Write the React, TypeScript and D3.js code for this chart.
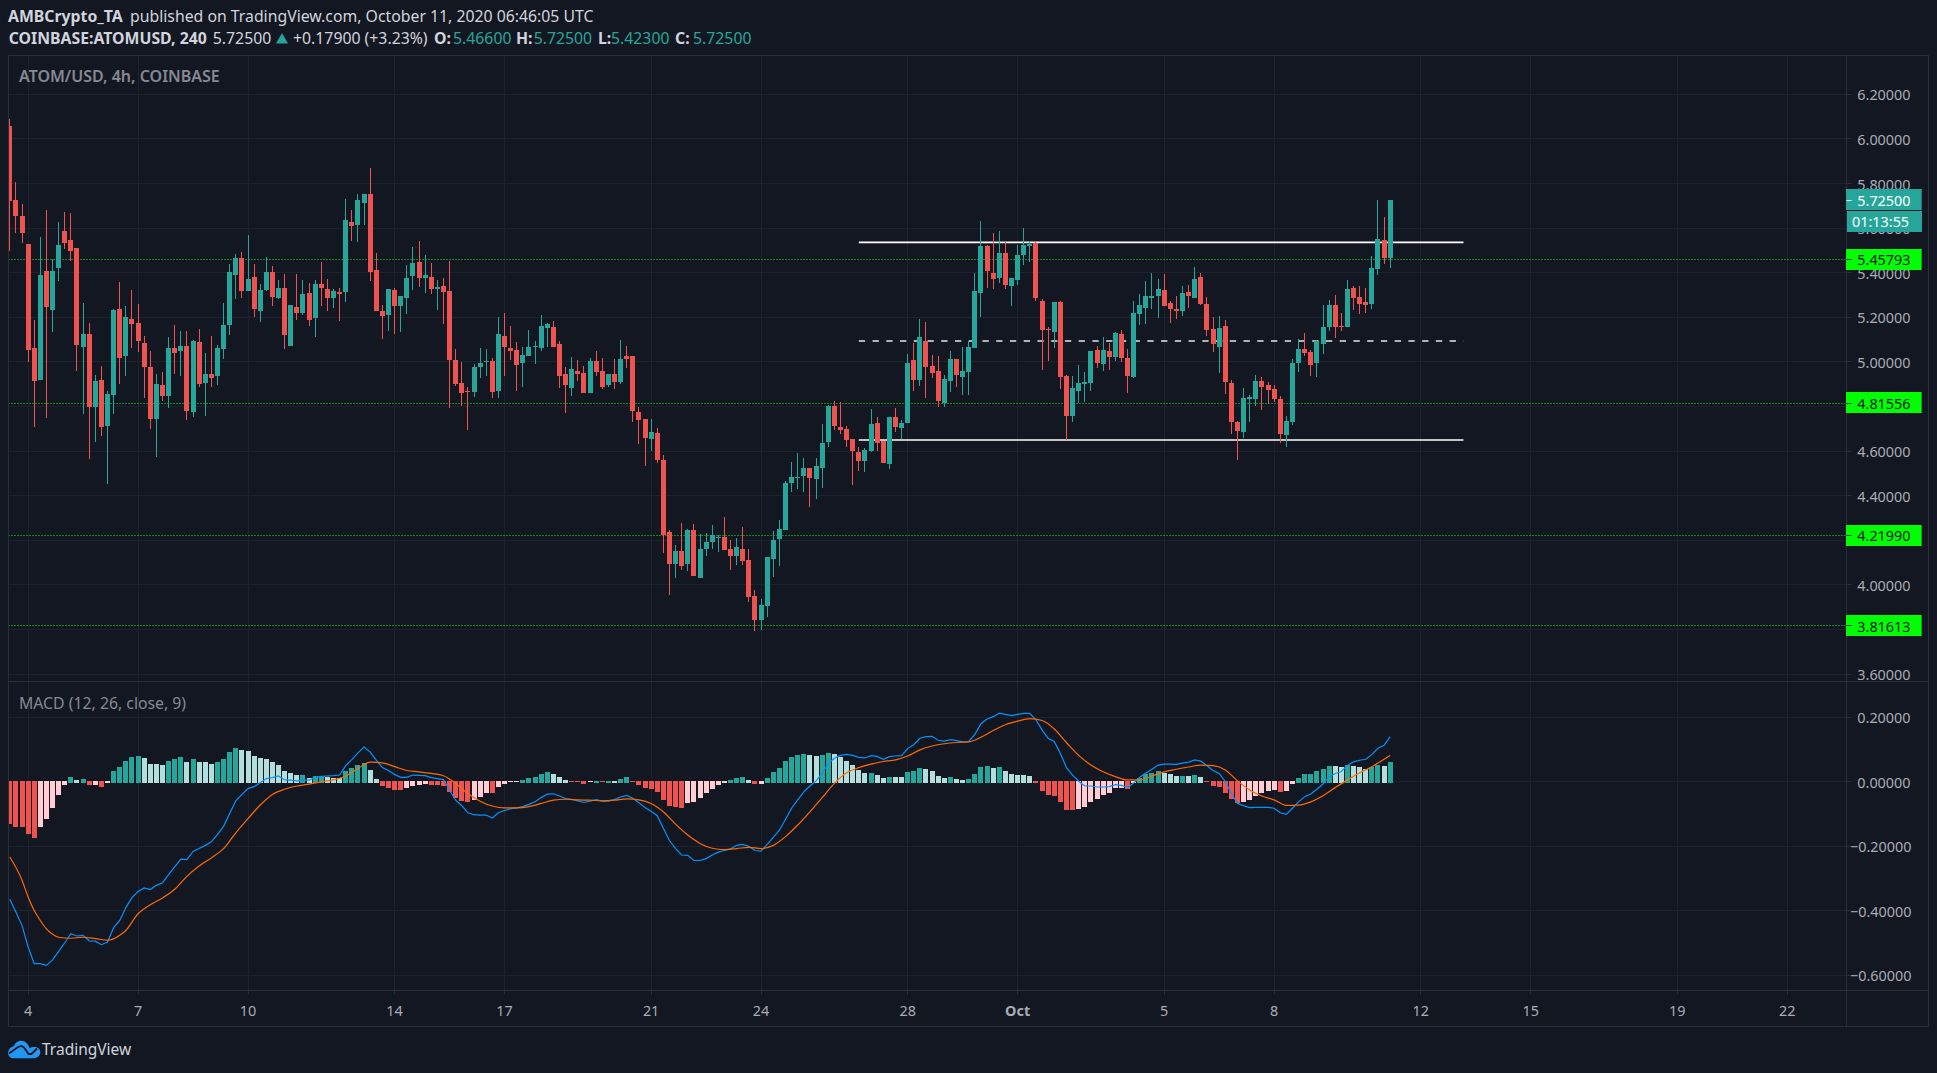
import React from 'react';
import * as d3 from 'd3';

const opens = [
  6.058,5.726,5.654,5.529,5.062,4.919,5.408,5.233,5.421,5.587,
  5.547,5.511,5.067,5.125,4.798,4.919,4.713,4.852,5.237,5.026,
  5.192,5.174,5.085,4.977,4.744,4.896,4.847,5.062,5.049,5.071,
  4.775,5.089,4.905,4.946,4.937,5.058,5.165,5.390,5.466,5.318,
  5.381,5.228,5.322,5.403,5.287,5.331,5.071,5.246,5.219,5.309,
  5.197,5.349,5.327,5.287,5.313,5.313,5.627,5.614,5.713,5.753,
  5.412,5.228,5.210,5.322,5.251,5.287,5.385,5.448,5.376,5.381,
  5.327,5.340,5.318,5.008,4.905,4.869,4.865,4.977,5.000,5.004,
  4.870,5.116,5.062,5.053,4.995,5.026,5.067,5.062,5.152,5.157,
  5.080,4.946,4.883,4.959,4.950,4.861,5.004,4.959,4.896,4.946,
  4.910,5.026,5.026,4.775,4.744,4.654,4.681,4.560,4.237,4.094,
  4.152,4.094,4.246,4.031,4.161,4.192,4.210,4.215,4.161,4.130,
  4.161,4.112,3.950,3.843,3.905,4.116,4.206,4.246,4.457,4.479,
  4.488,4.524,4.475,4.524,4.641,4.802,4.708,4.699,4.654,4.596,
  4.556,4.601,4.726,4.645,4.542,4.753,4.704,4.726,5.009,4.919,
  5.094,4.982,4.959,4.816,4.914,5.013,4.932,4.955,5.062,5.309,
  5.520,5.399,5.376,5.488,5.340,5.367,5.479,5.520,5.533,5.273,
  5.147,5.134,5.269,4.937,4.757,4.870,4.901,4.905,5.053,4.991,
  5.049,5.022,5.125,5.018,4.932,5.215,5.242,5.287,5.296,5.322,
  5.264,5.237,5.228,5.313,5.287,5.381,5.260,5.147,5.067,5.161,
  4.905,4.731,4.686,4.834,4.834,4.914,4.896,4.878,4.834,4.672,
  4.731,4.995,5.058,5.044,4.995,5.080,5.157,5.255,5.161,5.157,
  5.331,5.291,5.269,5.260,5.417,5.547,5.466,
];

const highs = [
  6.089,5.805,5.707,5.529,5.188,5.560,5.680,5.461,5.627,5.672,
  5.668,5.511,5.264,5.174,4.941,4.982,4.869,5.237,5.358,5.251,
  5.322,5.260,5.116,5.049,4.946,4.955,5.112,5.165,5.139,5.139,
  5.098,5.148,5.040,5.116,5.076,5.264,5.439,5.484,5.493,5.569,
  5.439,5.349,5.470,5.430,5.367,5.394,5.255,5.394,5.367,5.354,
  5.367,5.448,5.372,5.327,5.331,5.730,5.681,5.753,5.753,5.869,
  5.488,5.255,5.327,5.331,5.296,5.434,5.515,5.542,5.479,5.443,
  5.367,5.376,5.452,5.058,4.999,4.887,4.991,5.061,5.058,5.018,
  5.201,5.219,5.161,5.089,5.067,5.143,5.094,5.210,5.174,5.183,
  5.094,4.977,5.022,5.009,4.982,5.018,5.049,5.018,4.946,5.013,
  5.098,5.071,5.026,4.798,4.744,4.744,4.704,4.583,4.246,4.179,
  4.278,4.251,4.273,4.228,4.233,4.269,4.224,4.305,4.201,4.210,
  4.260,4.161,3.977,3.937,4.125,4.242,4.291,4.466,4.551,4.592,
  4.569,4.524,4.569,4.722,4.807,4.825,4.820,4.713,4.654,4.618,
  4.614,4.789,4.753,4.645,4.753,4.793,4.740,5.035,5.085,5.192,
  5.179,5.031,5.026,4.941,5.049,5.013,5.067,5.094,5.399,5.632,
  5.524,5.578,5.587,5.538,5.376,5.524,5.600,5.542,5.542,5.282,
  5.157,5.269,5.273,4.941,4.937,4.986,4.955,5.049,5.071,5.112,
  5.085,5.134,5.143,5.058,5.273,5.305,5.363,5.399,5.372,5.394,
  5.273,5.296,5.340,5.345,5.426,5.399,5.291,5.201,5.206,5.188,
  4.919,4.735,4.883,4.852,4.941,4.932,4.910,4.896,4.847,4.757,
  5.013,5.103,5.130,5.053,5.098,5.255,5.278,5.300,5.219,5.367,
  5.340,5.340,5.331,5.475,5.726,5.650,5.725,
];

const lows = [
  5.497,5.578,5.533,4.999,4.708,4.919,4.748,5.134,5.363,5.506,
  5.452,4.959,4.766,4.565,4.641,4.668,4.452,4.766,4.901,4.937,
  5.062,5.044,4.838,4.699,4.574,4.825,4.793,4.946,4.937,4.739,
  4.753,4.887,4.757,4.887,4.896,5.013,5.121,5.282,5.287,5.318,
  5.201,5.179,5.318,5.251,5.282,5.058,5.071,5.188,5.210,5.161,
  5.112,5.251,5.228,5.242,5.183,5.269,5.542,5.538,5.614,5.363,
  5.228,5.103,5.139,5.125,5.134,5.215,5.322,5.336,5.309,5.304,
  5.233,5.170,4.793,4.892,4.802,4.695,4.843,4.928,4.937,4.838,
  4.838,4.937,5.009,4.870,4.887,5.026,4.991,5.049,5.067,5.067,
  4.883,4.771,4.847,4.914,4.861,4.861,4.937,4.878,4.887,4.878,
  4.901,4.973,4.731,4.632,4.533,4.600,4.547,4.143,3.955,4.031,
  4.067,4.062,4.040,4.031,4.130,4.161,4.148,4.157,4.067,4.089,
  4.089,3.923,3.793,3.798,3.856,4.036,4.085,4.246,4.417,4.430,
  4.417,4.349,4.385,4.434,4.618,4.695,4.677,4.618,4.448,4.511,
  4.506,4.596,4.601,4.547,4.520,4.686,4.654,4.726,4.870,4.892,
  4.838,4.928,4.798,4.798,4.865,4.887,4.852,4.852,5.062,5.201,
  5.331,5.327,5.354,5.327,5.251,5.345,5.435,5.448,5.273,4.964,
  5.004,5.062,4.878,4.650,4.731,4.816,4.820,4.870,4.973,4.959,
  4.964,5.004,5.000,4.861,4.928,5.166,5.170,5.237,5.197,5.251,
  5.174,5.192,5.206,5.242,5.287,5.255,5.116,5.044,4.950,4.856,
  4.677,4.560,4.659,4.731,4.802,4.784,4.811,4.820,4.636,4.618,
  4.717,4.955,5.026,4.937,4.932,5.035,5.139,5.107,5.139,5.157,
  5.233,5.215,5.219,5.237,5.390,5.439,5.423,
];

const closes = [
  5.722,5.654,5.578,5.053,4.914,5.390,5.246,5.408,5.524,5.533,
  5.497,5.076,5.125,4.798,4.914,4.708,4.856,5.233,5.017,5.201,
  5.170,5.094,4.977,4.744,4.901,4.847,5.062,5.040,5.071,4.780,
  5.094,4.901,4.946,4.928,5.062,5.165,5.403,5.466,5.318,5.372,
  5.237,5.322,5.403,5.291,5.331,5.121,5.255,5.219,5.304,5.188,
  5.349,5.331,5.287,5.318,5.304,5.636,5.609,5.726,5.753,5.403,
  5.228,5.206,5.327,5.251,5.296,5.376,5.443,5.376,5.390,5.327,
  5.336,5.313,5.008,4.901,4.860,4.865,4.977,4.995,5.004,4.865,
  5.125,5.067,5.049,4.986,5.031,5.067,5.071,5.161,5.170,5.067,
  4.937,4.896,4.968,4.946,4.861,5.004,4.955,4.887,4.946,4.910,
  5.013,5.013,4.780,4.740,4.659,4.686,4.560,4.224,4.094,4.152,
  4.085,4.246,4.040,4.161,4.192,4.224,4.215,4.157,4.130,4.170,
  4.107,3.946,3.843,3.910,4.125,4.201,4.251,4.457,4.484,4.484,
  4.524,4.479,4.533,4.636,4.802,4.713,4.695,4.650,4.600,4.556,
  4.605,4.722,4.636,4.547,4.753,4.708,4.726,4.995,4.919,5.112,
  4.977,4.950,4.825,4.923,5.013,4.941,4.959,5.067,5.318,5.520,
  5.408,5.372,5.488,5.345,5.376,5.479,5.524,5.529,5.287,5.143,
  5.143,5.269,4.932,4.757,4.883,4.905,4.910,5.049,4.995,5.053,
  5.022,5.130,5.018,4.937,5.219,5.255,5.296,5.296,5.327,5.251,
  5.237,5.228,5.309,5.296,5.372,5.260,5.143,5.080,5.152,4.910,
  4.731,4.690,4.838,4.843,4.914,4.887,4.874,4.834,4.677,4.735,
  4.995,5.058,5.040,4.986,5.094,5.157,5.255,5.157,5.157,5.327,
  5.287,5.260,5.255,5.421,5.551,5.466,5.725,
];

const histValues = [
  -.133,-.142,-.142,-.164,-.176,-.142,-.117,-.083,-.042,-.011,
  .013,.005,.007,-.011,-.011,-.018,-.005,.032,.045,.063,
  .076,.079,.072,.054,.054,.051,.063,.069,.076,.060,
  .069,.060,.060,.054,.060,.069,.091,.104,.097,.094,
  .079,.072,.069,.060,.051,.032,.026,.020,.020,.010,
  .017,.017,.014,.012,.010,.032,.041,.051,.057,.035,
  .007,-.014,-.021,-.027,-.027,-.021,-.014,-.011,-.008,-.011,
  -.011,-.014,-.033,-.052,-.061,-.064,-.058,-.048,-.036,-.036,
  -.017,-.008,-.002,-.002,.005,.011,.014,.023,.030,.023,
  .014,.005,-.002,-.002,-.008,-.002,.002,-.002,.002,.002,
  .008,.014,-.002,-.011,-.020,-.023,-.033,-.058,-.076,-.079,
  -.082,-.067,-.064,-.051,-.036,-.023,-.011,-.005,.005,.011,
  .014,.005,-.008,-.008,.011,.030,.042,.064,.076,.082,
  .085,.082,.079,.082,.089,.085,.076,.064,.051,.036,
  .026,.026,.020,.011,.014,.014,.014,.030,.033,.042,
  .039,.033,.017,.011,.014,.008,.005,.008,.023,.045,
  .048,.042,.045,.033,.023,.020,.020,.017,-.005,-.030,
  -.042,-.045,-.064,-.089,-.089,-.085,-.079,-.064,-.054,-.042,
  -.036,-.020,-.020,-.023,-.005,.011,.023,.026,.033,.026,
  .023,.017,.017,.017,.020,.014,-.002,-.014,-.017,-.036,
  -.054,-.067,-.064,-.057,-.045,-.036,-.030,-.026,-.033,-.030,
  -.008,.011,.023,.023,.033,.039,.048,.048,.045,.051,
  .048,.045,.039,.045,.051,.048,.061,
];

// R falling below zero, P rising below zero, G rising above zero, L falling above zero
const histShades = ("RRRRR PPPPP G L G R P R P GGGGG LLLL GGG L G LLL GGGG LLLLLLLLLL G L GG LLL GGGG LL " +
  "RRRR PPPP RRRRRRR PPP R PPPP GGGGG LLL RRR P G R G L GG RRRRRRRRR PPPPPPP GGG L R P GGGGGGG LL GG " +
  "LLLLLL G LL G LL GGG LLLL G LL GGGG L G LLLLL RRRRRRR PPPPPPPP R P GGGG LLL G L G L RRRRRR PPPPPP R PP " +
  "GGGGGG LL G LLL GG L G").replace(/ /g, "");

const macdValues = [
  -.365,-.405,-.446,-.513,-.565,-.565,-.570,-.553,-.527,-.500,
  -.472,-.479,-.477,-.494,-.495,-.506,-.498,-.453,-.431,-.391,
  -.360,-.341,-.330,-.335,-.322,-.314,-.289,-.265,-.241,-.242,
  -.217,-.208,-.198,-.187,-.164,-.139,-.099,-.060,-.040,-.022,
  -.016,-.004,.009,.012,.017,.005,.004,.002,.004,.004,
  .013,.016,.017,.018,.020,.049,.068,.089,.107,.091,
  .066,.043,.034,.022,.013,.013,.020,.019,.018,.012,
  .009,.006,-.027,-.058,-.075,-.097,-.103,-.104,-.104,-.113,
  -.097,-.090,-.084,-.082,-.078,-.071,-.063,-.050,-.039,-.038,
  -.045,-.053,-.055,-.060,-.065,-.061,-.056,-.061,-.061,-.056,
  -.048,-.043,-.052,-.066,-.081,-.092,-.106,-.145,-.183,-.208,
  -.228,-.229,-.245,-.245,-.239,-.228,-.219,-.214,-.209,-.198,
  -.195,-.201,-.214,-.216,-.195,-.173,-.151,-.117,-.083,-.057,
  -.032,-.014,.002,.025,.056,.072,.081,.084,.081,.075,
  .073,.080,.078,.069,.077,.079,.080,.102,.114,.134,
  .139,.140,.128,.125,.130,.127,.123,.124,.146,.179,
  .194,.201,.212,.208,.204,.208,.211,.211,.191,.160,
  .134,.124,.087,.043,.020,.001,-.014,-.014,-.017,-.017,
  -.016,-.010,-.012,-.018,-.005,.013,.026,.038,.051,.054,
  .054,.053,.057,.060,.067,.063,.049,.034,.025,0,
  -.037,-.068,-.075,-.081,-.080,-.080,-.080,-.083,-.097,-.102,
  -.083,-.063,-.047,-.039,-.024,-.008,.015,.025,.031,.050,
  .061,.066,.069,.084,.103,.112,.139,
];

const signalBars = [
  0,2,3,4,5,6,7,8,10,12,14,16,17,18,19,21,23,25,27,29,31,33,35,37,39,41,43,45,47,49,
  51,53,55,57,59,61,63,65,67,69,71,73,75,77,79,81,83,85,87,89,91,93,95,97,99,101,103,105,107,109,
  111,113,115,117,119,121,123,125,127,129,131,133,135,137,139,141,143,145,147,149,151,153,155,157,159,161,163,165,167,169,
  171,173,175,177,179,181,183,185,187,189,191,193,195,197,199,201,203,205,207,209,211,213,215,217,219,221,223,225,226,
];
const signalValues = [
  -.234,-.306,-.358,-.400,-.431,-.457,-.474,-.483,-.486,-.483,-.487,-.492,-.488,-.477,-.462,-.410,-.382,-.361,-.334,-.294,-.262,-.237,-.208,-.159,-.115,-.073,-.040,-.024,-.014,-.008,
  -.001,.005,.017,.040,.060,.058,.046,.034,.030,.025,.018,-.006,-.037,-.061,-.076,-.082,-.082,-.078,-.068,-.058,-.055,-.057,-.058,-.060,-.058,-.054,-.057,-.068,-.094,-.132,
  -.166,-.192,-.207,-.211,-.208,-.204,-.208,-.198,-.171,-.135,-.094,-.050,-.006,.027,.043,.054,.062,.067,.079,.098,.110,.117,.121,.123,.137,.158,.176,.187,.195,.189,
  .163,.121,.081,.051,.030,.015,.005,.005,.017,.030,.038,.045,.051,.049,.036,.002,-.026,-.045,-.057,-.074,-.073,-.063,-.044,-.019,.005,.027,.046,.069,.081,
];

const priceTicks = [6.2, 6.0, 5.8, 5.6, 5.4, 5.2, 5.0, 4.8, 4.6, 4.4, 4.2, 4.0, 3.8, 3.6];
const macdTicks = [0.2, 0, -0.2, -0.4, -0.6];
const timeTickBars = [3, 21, 39, 63, 81, 105, 123, 147, 165, 189, 207, 231, 249, 273, 291];
const timeTickLabels = ['4', '7', '10', '14', '17', '21', '24', '28', 'Oct', '5', '8', '12', '15', '19', '22'];
const supportLevels = [5.45793, 4.81556, 4.2199, 3.81613];
const rangeLevels = [5.536, 4.65];
const rangeMidLevel = 5.094;
const rangeBars = [139, 238];
const lastClose = 5.725;

const W = 1937;
const H = 1073;
const left = 8.5;
const axisX = 1846.5;
const frameRight = 1928.5;
const frameTop = 55.5;
const paneSplit = 681.5;
const axisY = 990.5;
const frameBottom = 1026.5;

const BG = '#131722';
const GRID = '#1e222d';
const BORDER = '#2a2e39';
const UP = '#26a69a';
const DOWN = '#ef5350';
const LEVEL = '#00ff00';
const AXIS_TEXT = '#a9acb5';
const shadeColors: Record<string, string> = { R: '#ef5350', P: '#ffcdd2', G: '#26a69a', L: '#b2dfdb' };
const FONT = '"Noto Sans", sans-serif';

const x = d3.scaleLinear().domain([0, 226]).range([9.8, 1390.2]);
const yPrice = d3.scaleLinear().domain([3.6, 6.2]).range([674.1, 94.3]);
const yMacd = d3.scaleLinear().domain([-0.6, 0.2]).range([975, 717]);

// snap to the pixel grid so candles stay as crisp as the screenshot
const px = (b: number) => Math.floor(x(b)) + 0.5;
const row = (v: number) => Math.floor(v) + 0.5;

const macdLine = d3.line<number>().x((_, i) => x(i)).y((d) => yMacd(d));
const signalLine = d3.line<number>()
  .x((_, i) => x(signalBars[i]))
  .y((d) => yMacd(d))
  .curve(d3.curveMonotoneX);

function PriceBox({ value, text, fill, color, edge }: { value: number; text: string; fill: string; color: string; edge: string }) {
  const y = yPrice(value);
  return (
    <g>
      <rect x={axisX - 0.5} y={Math.round(y - 10.8)} width={75} height={21} fill={fill} />
      <rect x={axisX + 74.5} y={Math.round(y - 10.8)} width={1} height={21} fill={edge} />
      <line x1={axisX} x2={axisX + 5} y1={row(y)} y2={row(y)} stroke={color} />
      <text x={1857.3} y={y + 5.6} fontSize={14.4} fill={color}>{text}</text>
    </g>
  );
}

export default function App() {
  const bodyLeft = 2;
  const bodyWidth = 5;
  return (
    <svg width={W} height={H} style={{ position: 'fixed', left: 0, top: 0 }} fontFamily={FONT}>
      <defs>
        <clipPath id="panes">
          <rect x={left + 0.5} y={frameTop} width={axisX - left - 0.5} height={axisY - frameTop} />
        </clipPath>
      </defs>
      <rect width={W} height={H} fill={BG} />

      {/* grid */}
      {timeTickBars.map((b) => (
        <line key={b} x1={px(b)} x2={px(b)} y1={frameTop} y2={axisY} stroke={GRID} />
      ))}
      {priceTicks.map((t) => (
        <line key={t} x1={left} x2={axisX} y1={row(yPrice(t))} y2={row(yPrice(t))} stroke={GRID} />
      ))}
      {macdTicks.map((t) => (
        <line key={t} x1={left} x2={axisX} y1={row(yMacd(t))} y2={row(yMacd(t))} stroke={GRID} />
      ))}

      <g clipPath="url(#panes)">
        {/* drawn levels */}
        {supportLevels.map((l) => (
          <line key={l} x1={left} x2={axisX} y1={row(yPrice(l))} y2={row(yPrice(l))} stroke={LEVEL} strokeDasharray="1 2" />
        ))}
        {rangeLevels.map((l) => (
          <line key={l} x1={x(rangeBars[0])} x2={x(rangeBars[1])} y1={yPrice(l)} y2={yPrice(l)} stroke="#ffffff" strokeWidth={1.6} />
        ))}
        <line x1={x(rangeBars[0])} x2={x(rangeBars[1])} y1={yPrice(rangeMidLevel)} y2={yPrice(rangeMidLevel)}
          stroke="#e4e6eb" strokeWidth={1.4} strokeDasharray="6.3 7.44" />

        {/* candles */}
        {opens.map((o, i) => {
          const c = closes[i];
          const color = c >= o ? UP : DOWN;
          const top = Math.round(yPrice(Math.max(o, c)));
          const bottom = Math.round(yPrice(Math.min(o, c)));
          return (
            <g key={i}>
              <line x1={px(i)} x2={px(i)} y1={Math.round(yPrice(highs[i]))} y2={Math.round(yPrice(lows[i]))} stroke={color} />
              <rect x={px(i) - 0.5 - bodyLeft} y={top} width={bodyWidth} height={Math.max(bottom - top, 1)} fill={color} />
            </g>
          );
        })}

        {/* MACD */}
        {histValues.map((v, i) => {
          const zero = v >= 0 ? Math.round(yMacd(0)) + 1 : Math.round(yMacd(0)) - 1;
          const end = Math.round(yMacd(v));
          return (
            <rect key={i} x={px(i) - 0.5 - bodyLeft} y={Math.min(zero, end)} width={bodyWidth}
              height={Math.max(Math.abs(end - zero), 1)} fill={shadeColors[histShades[i]]} />
          );
        })}
        <path d={macdLine(macdValues) ?? ''} fill="none" stroke="#0094ff" strokeWidth={1.2} />
        <path d={signalLine(signalValues) ?? ''} fill="none" stroke="#ff6a00" strokeWidth={1.2} />
      </g>

      {/* frame */}
      <line x1={left} x2={left} y1={frameTop} y2={frameBottom} stroke={BORDER} />
      <line x1={frameRight} x2={frameRight} y1={frameTop} y2={frameBottom} stroke={BORDER} />
      <line x1={left} x2={frameRight} y1={frameTop} y2={frameTop} stroke={BORDER} />
      <line x1={left} x2={frameRight} y1={frameBottom} y2={frameBottom} stroke={BORDER} />
      <line x1={axisX} x2={axisX} y1={frameTop} y2={frameBottom} stroke={BORDER} />
      <line x1={left} x2={frameRight} y1={axisY} y2={axisY} stroke={BORDER} />
      <line x1={left} x2={frameRight} y1={paneSplit} y2={paneSplit} stroke={BORDER} />

      {/* price and MACD axes */}
      {priceTicks.map((t) => (
        <g key={t}>
          <line x1={axisX} x2={axisX + 5} y1={row(yPrice(t))} y2={row(yPrice(t))} stroke={BORDER} />
          <text x={1857.3} y={yPrice(t) + 6} fontSize={14.4} fill={AXIS_TEXT}>{t.toFixed(5)}</text>
        </g>
      ))}
      {macdTicks.map((t) => (
        <g key={t}>
          <line x1={axisX} x2={axisX + 5} y1={row(yMacd(t))} y2={row(yMacd(t))} stroke={BORDER} />
          <text x={t < 0 ? 1850 : 1857.3} y={yMacd(t) + 6} fontSize={14.4} fill={AXIS_TEXT}>
            {t < 0 ? `\u2212${Math.abs(t).toFixed(5)}` : t.toFixed(5)}
          </text>
        </g>
      ))}

      {/* time axis */}
      {timeTickBars.map((b, i) => (
        <g key={b}>
          <line x1={px(b)} x2={px(b)} y1={axisY} y2={axisY + 4} stroke={BORDER} />
          <text x={x(b)} y={1015.5} fontSize={14.4} textAnchor="middle" fill={AXIS_TEXT}
            fontWeight={timeTickLabels[i] === 'Oct' ? 700 : 400}>{timeTickLabels[i]}</text>
        </g>
      ))}

      {/* price labels */}
      {supportLevels.map((l) => (
        <PriceBox key={l} value={l} text={l.toFixed(5)} fill={LEVEL} edge="#00b000" color="#131722" />
      ))}
      <rect x={axisX + 0.5} y={211} width={75} height={21} fill={UP} />
      <text x={1852} y={227} fontSize={14.4} fill="#ffffff">01:13:55</text>
      <PriceBox value={lastClose} text={lastClose.toFixed(5)} fill={UP} edge="#1d7d75" color="#ffffff" />

      {/* titles */}
      <text y={22} fontSize={15.8} fill="#d1d4dc">
        <tspan x={8} fontWeight={700}>AMBCrypto_TA</tspan>
        <tspan x={130}>published on TradingView.com, October 11, 2020 06:46:05 UTC</tspan>
      </text>
      <text y={43.5} fontSize={15.8} fill="#d1d4dc">
        <tspan x={8.7} fontWeight={700}>COINBASE:ATOMUSD, 240</tspan>
        <tspan x={212.8}>5.72500</tspan>
        <tspan x={293}>+0.17900 (+3.23%)</tspan>
        <tspan x={434} fontWeight={700}>O:</tspan><tspan x={453} fill={UP}>5.46600</tspan>
        <tspan x={516} fontWeight={700}>H:</tspan><tspan x={533.7} fill={UP}>5.72500</tspan>
        <tspan x={598} fontWeight={700}>L:</tspan><tspan x={611} fill={UP}>5.42300</tspan>
        <tspan x={675} fontWeight={700}>C:</tspan><tspan x={693} fill={UP}>5.72500</tspan>
      </text>
      <path d="M276 43.5 L282 33 L288 43.5 Z" fill={UP} />
      <text x={19} y={81.5} fontSize={16} fontWeight={600} fill="#868993">ATOM/USD, 4h, COINBASE</text>
      <text x={19} y={708.5} fontSize={15.8} fill="#868993">MACD (12, 26, close, 9)</text>

      {/* logo */}
      <path d="M13.5 1058.3 H33.5 C38 1058.3 40.3 1055 40.3 1052.3 C40.3 1049 37.5 1046.5 34 1047 C32 1047 31 1047.5 29.5 1048 C28 1043.5 25 1040.7 21 1040.7 C17.5 1040.7 15 1043 14 1046 C10.5 1047 8 1050 8 1053 C8 1056 10.5 1058.3 13.5 1058.3 Z" fill="#2196f3" />
      <path d="M9 1053.5 L18 1047 L21.5 1046 L24 1047.5 L28.5 1054 L31.5 1054 L37 1048.5" fill="none" stroke={BG} strokeWidth={1.8} />
      <text x={42} y={1055} fontSize={15.5} fill="#d1d4dc">TradingView</text>
    </svg>
  );
}
